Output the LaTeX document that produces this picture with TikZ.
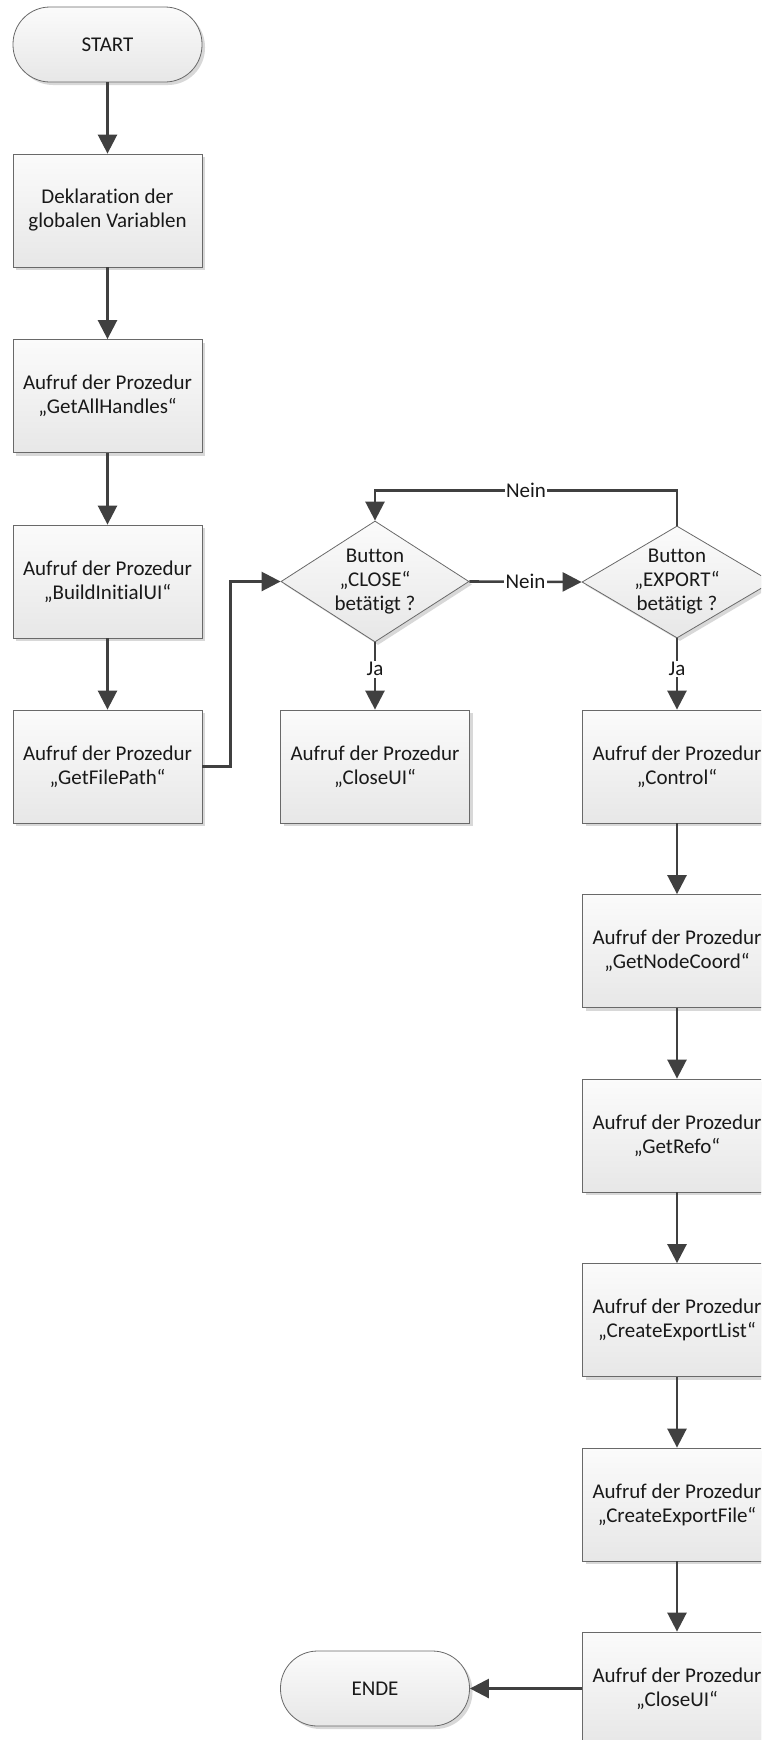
\documentclass[tikz,border=0pt]{standalone}
\usepackage{fontspec}
\setmainfont{Carlito}[Ligatures=NoCommon]
\usepackage{xcolor}
\definecolor{hgrey}{RGB}{64,64,64}
\definecolor{hgrey0}{RGB}{105,105,105}
\definecolor{hgrey1}{RGB}{231,231,231}
\definecolor{hgrey2}{RGB}{251,251,251}
\usetikzlibrary{calc}
\usetikzlibrary{shapes.geometric,arrows.meta,shadows}
\tikzset{
  proc/.style={draw=hgrey0, line width=0.8pt, top color=hgrey2, bottom color=hgrey1,
    minimum width=189pt, minimum height=113pt, inner sep=0pt, align=center,
    text=black!90, font=\fontsize{21}{24}\selectfont,
    drop shadow={shadow xshift=3pt, shadow yshift=-3pt, fill=black!30, opacity=.5}},
  term/.style={proc, rounded corners=37pt, minimum height=75pt},
  decide/.style={proc, diamond, minimum width=188pt, minimum height=121pt},
  txt/.style={align=center, text=black!90, font=\fontsize{21}{24}\selectfont},
  flow/.style={hgrey, line width=2.6pt, -{Triangle[length=19pt,width=19pt]}},
  lab/.style={fill=white, inner sep=1.5pt, text=black!90, font=\fontsize{21}{24}\selectfont}
}

\begin{document}
\begin{tikzpicture}[x=1pt,y=-1pt]
\useasboundingbox (0,0) rectangle (761,1740);
\clip (0,0) rectangle (761,1740);
% left column
\node[term] (start) at (107.5,44.5) {START};
\node[proc] (decl) at (107.5,210.5) {Deklaration der\\globalen Variablen};
\node[proc] (handles) at (107.5,396) {Aufruf der Prozedur\\„GetAllHandles“};
\node[proc] (initui) at (107.5,581.5) {Aufruf der Prozedur\\„BuildInitialUI“};
\node[proc] (path) at (107.5,766.5) {Aufruf der Prozedur\\„GetFilePath“};
% decisions
\node[decide] (close) at (375,581.5) {};
\node[txt] (closetxt) at (close) {Button\\„CLOSE“\\betätigt ?};
\node[proc] (closeui) at (375,766.5) {Aufruf der Prozedur\\„CloseUI“};
\node[decide, minimum width=190pt, minimum height=112pt] (export) at (677,582) {};
\node[txt] (exporttxt) at (export) {Button\\„EXPORT“\\betätigt ?};
% right column
\node[proc] (control) at (677,766.5) {Aufruf der Prozedur\\„Control“};
\node[proc] (coord) at (677,951) {Aufruf der Prozedur\\„GetNodeCoord“};
\node[proc] (refo) at (677,1135.5) {Aufruf der Prozedur\\„GetRefo“};
\node[proc] (explist) at (677,1320) {Aufruf der Prozedur\\„CreateExportList“};
\node[proc] (expfile) at (677,1504.5) {Aufruf der Prozedur\\„CreateExportFile“};
\node[proc] (closeuii) at (677,1688.5) {Aufruf der Prozedur\\„CloseUI“};
\node[term] (ende) at (375,1688.5) {ENDE};

\draw[flow] (start) -- (decl);
\draw[flow] (decl) -- (handles);
\draw[flow] (handles) -- (initui);
\draw[flow] (initui) -- (path);
\draw[flow] (path.east) -- ++(28,0) |- (close.west);
\draw[flow] (close.east) -- node[lab]{Nein} (export.west);
\draw[flow] (export.north) -- ++(0,-35) -| node[lab,pos=0.25]{Nein} (close.north);
\draw[flow] (close.south) -- node[lab,pos=0.4]{Ja} (closeui);
\draw[flow] (export.south) -- node[lab,pos=0.43]{Ja} (control);
%\draw[flow] (closeui) -- (ende);
\draw[flow] (control) -- (coord);
\draw[flow] (coord) -- (refo);
\draw[flow] (refo) -- (explist);
\draw[flow] (explist) -- (expfile);
\draw[flow] (expfile) -- (closeuii);
\draw[flow] (closeuii.west) -- (ende.east);
\end{tikzpicture}
\end{document}
